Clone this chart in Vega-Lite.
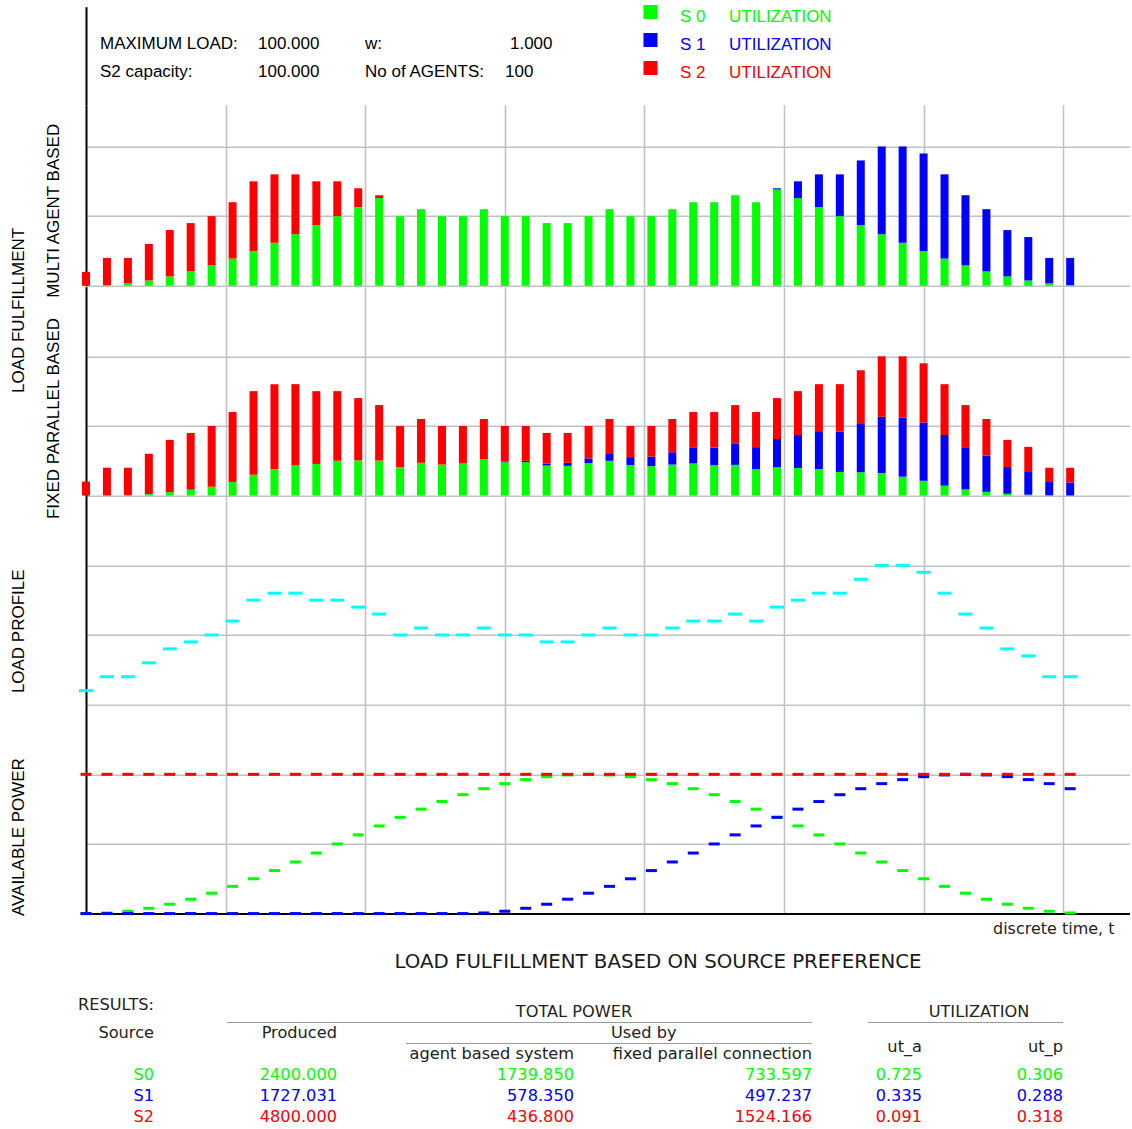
{
  "$schema": "https://vega.github.io/schema/vega-lite/v6.json",
  "padding": {"left": 8, "top": 0.7, "right": 0, "bottom": 0},
  "spacing": 0,
  "bounds": "flush",
  "resolve": {"scale": {"x": "independent", "y": "independent"}},
  "config": {"view": {"stroke": null}, "font": "Liberation Sans"},
  "datasets": {
    "agent": [
      {"t":0,"S0":0,"S1":0,"S2":10},{"t":1,"S0":0.43,"S1":0,"S2":19.57},{"t":2,"S0":1.7,"S1":0,"S2":18.3},{"t":3,"S0":3.81,"S1":0,"S2":26.19},
      {"t":4,"S0":6.7,"S1":0,"S2":33.3},{"t":5,"S0":10.33,"S1":0,"S2":34.67},{"t":6,"S0":14.64,"S1":0,"S2":35.36},{"t":7,"S0":19.56,"S1":0,"S2":40.44},
      {"t":8,"S0":25,"S1":0,"S2":50},{"t":9,"S0":30.87,"S1":0,"S2":49.13},{"t":10,"S0":37.06,"S1":0,"S2":42.94},{"t":11,"S0":43.47,"S1":0,"S2":31.53},
      {"t":12,"S0":50,"S1":0,"S2":25},{"t":13,"S0":56.53,"S1":0,"S2":13.47},{"t":14,"S0":62.94,"S1":0,"S2":2.06},{"t":15,"S0":50,"S1":0,"S2":0},
      {"t":16,"S0":55,"S1":0,"S2":0},{"t":17,"S0":50,"S1":0,"S2":0},{"t":18,"S0":50,"S1":0,"S2":0},{"t":19,"S0":55,"S1":0,"S2":0},
      {"t":20,"S0":50,"S1":0,"S2":0},{"t":21,"S0":50,"S1":0,"S2":0},{"t":22,"S0":45,"S1":0,"S2":0},{"t":23,"S0":45,"S1":0,"S2":0},
      {"t":24,"S0":50,"S1":0,"S2":0},{"t":25,"S0":55,"S1":0,"S2":0},{"t":26,"S0":50,"S1":0,"S2":0},{"t":27,"S0":50,"S1":0,"S2":0},
      {"t":28,"S0":55,"S1":0,"S2":0},{"t":29,"S0":60,"S1":0,"S2":0},{"t":30,"S0":60,"S1":0,"S2":0},{"t":31,"S0":65,"S1":0,"S2":0},
      {"t":32,"S0":60,"S1":0,"S2":0},{"t":33,"S0":69.13,"S1":0.87,"S2":0},{"t":34,"S0":62.94,"S1":12.06,"S2":0},{"t":35,"S0":56.53,"S1":23.47,"S2":0},
      {"t":36,"S0":50,"S1":30,"S2":0},{"t":37,"S0":43.47,"S1":46.53,"S2":0},{"t":38,"S0":37.06,"S1":62.94,"S2":0},{"t":39,"S0":30.87,"S1":69.13,"S2":0},
      {"t":40,"S0":25,"S1":70,"S2":0},{"t":41,"S0":19.56,"S1":60.44,"S2":0},{"t":42,"S0":14.64,"S1":50.36,"S2":0},{"t":43,"S0":10.33,"S1":44.67,"S2":0},
      {"t":44,"S0":6.7,"S1":33.3,"S2":0},{"t":45,"S0":3.81,"S1":31.19,"S2":0},{"t":46,"S0":1.7,"S1":18.3,"S2":0},{"t":47,"S0":0.43,"S1":19.57,"S2":0}
    ],
    "parallel": [
      {"t":0,"S0":0,"S1":0,"S2":10},{"t":1,"S0":0.09,"S1":0,"S2":19.91},{"t":2,"S0":0.33,"S1":0,"S2":19.67},{"t":3,"S0":1.1,"S1":0,"S2":28.9},
      {"t":4,"S0":2.51,"S1":0,"S2":37.49},{"t":5,"S0":4.21,"S1":0,"S2":40.79},{"t":6,"S0":6.39,"S1":0,"S2":43.61},{"t":7,"S0":9.82,"S1":0,"S2":50.18},
      {"t":8,"S0":15,"S1":0,"S2":60},{"t":9,"S0":18.87,"S1":0,"S2":61.13},{"t":10,"S0":21.63,"S1":0,"S2":58.37},{"t":11,"S0":22.72,"S1":0,"S2":52.28},
      {"t":12,"S0":25,"S1":0,"S2":50},{"t":13,"S0":25.28,"S1":0,"S2":44.72},{"t":14,"S0":25.11,"S1":0,"S2":39.89},{"t":15,"S0":20.44,"S1":0,"S2":29.56},
      {"t":16,"S0":23.57,"S1":0,"S2":31.43},{"t":17,"S0":22.29,"S1":0,"S2":27.71},{"t":18,"S0":23.03,"S1":0,"S2":26.97},{"t":19,"S0":25.94,"S1":0.12,"S2":28.94},
      {"t":20,"S0":23.92,"S1":0.44,"S2":25.64},{"t":21,"S0":24.05,"S1":0.95,"S2":25},{"t":22,"S0":21.58,"S1":1.47,"S2":21.95},{"t":23,"S0":21.35,"S1":2.21,"S2":21.44},
      {"t":24,"S0":23.29,"S1":3.41,"S2":23.3},{"t":25,"S0":24.99,"S1":4.91,"S2":25.1},{"t":26,"S0":22.01,"S1":5.6,"S2":22.39},{"t":27,"S0":21.18,"S1":6.8,"S2":22.02},
      {"t":28,"S0":22.28,"S1":8.85,"S2":23.87},{"t":29,"S0":23.08,"S1":11.19,"S2":25.73},{"t":30,"S0":21.76,"S1":12.75,"S2":25.49},{"t":31,"S0":22.06,"S1":15.51,"S2":27.43},
      {"t":32,"S0":18.91,"S1":15.87,"S2":25.22},{"t":33,"S0":20.31,"S1":20.31,"S2":29.38},{"t":34,"S0":19.84,"S1":23.64,"S2":31.52},{"t":35,"S0":19.08,"S1":27.16,"S2":33.76},
      {"t":36,"S0":17,"S1":29.01,"S2":33.99},{"t":37,"S0":16.78,"S1":34.62,"S2":38.6},{"t":38,"S0":16.09,"S1":40.5,"S2":43.41},{"t":39,"S0":13.6,"S1":42.36,"S2":44.04},
      {"t":40,"S0":10.64,"S1":41.82,"S2":42.54},{"t":41,"S0":7.14,"S1":36.35,"S2":36.51},{"t":42,"S0":4.43,"S1":30.28,"S2":30.29},{"t":43,"S0":2.71,"S1":26.09,"S2":26.2},
      {"t":44,"S0":1.31,"S1":19.18,"S2":19.51},{"t":45,"S0":0.67,"S1":16.83,"S2":17.5},{"t":46,"S0":0.17,"S1":9.57,"S2":10.26},{"t":47,"S0":0.05,"S1":9.43,"S2":10.52}
    ],
    "power": [
      {"t":0,"load":10,"S0":0,"S1":0,"S2":100},{"t":1,"load":20,"S0":0.43,"S1":0,"S2":100},{"t":2,"load":20,"S0":1.7,"S1":0,"S2":100},{"t":3,"load":30,"S0":3.81,"S1":0,"S2":100},
      {"t":4,"load":40,"S0":6.7,"S1":0,"S2":100},{"t":5,"load":45,"S0":10.33,"S1":0,"S2":100},{"t":6,"load":50,"S0":14.64,"S1":0,"S2":100},{"t":7,"load":60,"S0":19.56,"S1":0,"S2":100},
      {"t":8,"load":75,"S0":25,"S1":0,"S2":100},{"t":9,"load":80,"S0":30.87,"S1":0,"S2":100},{"t":10,"load":80,"S0":37.06,"S1":0,"S2":100},{"t":11,"load":75,"S0":43.47,"S1":0,"S2":100},
      {"t":12,"load":75,"S0":50,"S1":0,"S2":100},{"t":13,"load":70,"S0":56.53,"S1":0,"S2":100},{"t":14,"load":65,"S0":62.94,"S1":0,"S2":100},{"t":15,"load":50,"S0":69.13,"S1":0,"S2":100},
      {"t":16,"load":55,"S0":75,"S1":0,"S2":100},{"t":17,"load":50,"S0":80.44,"S1":0,"S2":100},{"t":18,"load":50,"S0":85.36,"S1":0,"S2":100},{"t":19,"load":55,"S0":89.67,"S1":0.43,"S2":100},
      {"t":20,"load":50,"S0":93.3,"S1":1.7,"S2":100},{"t":21,"load":50,"S0":96.19,"S1":3.81,"S2":100},{"t":22,"load":45,"S0":98.3,"S1":6.7,"S2":100},{"t":23,"load":45,"S0":99.57,"S1":10.33,"S2":100},
      {"t":24,"load":50,"S0":100,"S1":14.64,"S2":100},{"t":25,"load":55,"S0":99.57,"S1":19.56,"S2":100},{"t":26,"load":50,"S0":98.3,"S1":25,"S2":100},{"t":27,"load":50,"S0":96.19,"S1":30.87,"S2":100},
      {"t":28,"load":55,"S0":93.3,"S1":37.06,"S2":100},{"t":29,"load":60,"S0":89.67,"S1":43.47,"S2":100},{"t":30,"load":60,"S0":85.36,"S1":50,"S2":100},{"t":31,"load":65,"S0":80.44,"S1":56.53,"S2":100},
      {"t":32,"load":60,"S0":75,"S1":62.94,"S2":100},{"t":33,"load":70,"S0":69.13,"S1":69.13,"S2":100},{"t":34,"load":75,"S0":62.94,"S1":75,"S2":100},{"t":35,"load":80,"S0":56.53,"S1":80.44,"S2":100},
      {"t":36,"load":80,"S0":50,"S1":85.36,"S2":100},{"t":37,"load":90,"S0":43.47,"S1":89.67,"S2":100},{"t":38,"load":100,"S0":37.06,"S1":93.3,"S2":100},{"t":39,"load":100,"S0":30.87,"S1":96.19,"S2":100},
      {"t":40,"load":95,"S0":25,"S1":98.3,"S2":100},{"t":41,"load":80,"S0":19.56,"S1":99.57,"S2":100},{"t":42,"load":65,"S0":14.64,"S1":100,"S2":100},{"t":43,"load":55,"S0":10.33,"S1":99.57,"S2":100},
      {"t":44,"load":40,"S0":6.7,"S1":98.3,"S2":100},{"t":45,"load":35,"S0":3.81,"S1":96.19,"S2":100},{"t":46,"load":20,"S0":1.7,"S1":93.3,"S2":100},{"t":47,"load":20,"S0":0.43,"S1":89.67,"S2":100}
    ]
  },
  "vconcat": [
    {
      "width": 1044, "height": 97.8,
      "data": {"values": [
        {"slot":0,"line":0,"text":"MAXIMUM LOAD:"},{"slot":1,"line":0,"text":"100.000"},{"slot":2,"line":0,"text":"w:"},{"slot":4,"line":0,"text":"1.000"},
        {"slot":0,"line":1,"text":"S2 capacity:"},{"slot":1,"line":1,"text":"100.000"},{"slot":2,"line":1,"text":"No of AGENTS:"},{"slot":3,"line":1,"text":"100"}
      ]},
      "mark": {"type": "text", "align": "left", "baseline": "middle", "font": "Liberation Sans", "fontSize": 17, "color": "#000"},
      "encoding": {
        "x": {"field": "slot", "type": "quantitative", "scale": {"domain": [0,1,2,3,4], "range": [14,172,279,419,424], "nice": false, "zero": false}, "axis": null},
        "y": {"field": "line", "type": "quantitative", "scale": {"domain": [-1.321, 2.171], "range": [0, 97.8], "nice": false, "zero": false},
          "axis": {"grid": false, "ticks": false, "labels": false, "domain": true, "domainColor": "#000", "domainWidth": 2,
            "title": "LOAD FULFILLMENT", "titleX": -68, "titleY": 303.2, "titleAngle": 270, "titleAlign": "center", "titleBaseline": "middle",
            "titleFont": "Liberation Sans", "titleFontSize": 17, "titleFontWeight": "normal", "titleColor": "#000"}},
        "text": {"field": "text"}
      }
    },
    {
      "width": 1044, "height": 181.1,
      "data": {"name": "agent"},
      "transform": [{"fold": ["S0","S1","S2"], "as": ["src","v"]}],
      "mark": {"type": "bar", "size": 8},
      "encoding": {
        "x": {"field": "t", "type": "quantitative", "scale": {"domain": [0, 49.857], "nice": false, "zero": false, "padding": 0},
          "axis": {"values": [6.6667,13.3333,20,26.6667,33.3333,40,46.6667], "grid": true, "gridColor": "#bfc3c3", "gridWidth": 1.6, "labels": false, "ticks": false, "domain": false, "title": null}},
        "y": {"field": "v", "type": "quantitative", "stack": "zero", "scale": {"domain": [0, 130], "nice": false, "padding": 0},
          "axis": {"values": [0,50,100], "grid": true, "gridColor": "#bfc3c3", "gridWidth": 1.6, "labels": false, "ticks": false, "domain": true, "domainColor": "#000", "domainWidth": 2,
            "title": "MULTI AGENT BASED", "titleX": -33, "titleY": 105.6, "titleAngle": 270, "titleAlign": "center", "titleBaseline": "middle",
            "titleFont": "Liberation Sans", "titleFontSize": 17, "titleFontWeight": "normal", "titleColor": "#000"}},
        "color": {"field": "src", "type": "nominal", "scale": {"domain": ["S0","S1","S2"], "range": ["#00ff00","#0000ff","#ff0000"]},
          "legend": {"orient": "none", "legendX": 556, "legendY": -5.8, "direction": "vertical", "title": null, "padding": 0,
            "symbolType": "square", "symbolSize": 196, "symbolStrokeWidth": 0, "symbolOpacity": 1, "clipHeight": 22,
            "labelFont": "Liberation Sans", "labelFontSize": 17, "labelOffset": 21, "rowPadding": 4.1,
            "labelExpr": "'S\u00a0' + substring(datum.label, 1) + '\u00a0\u00a0\u00a0\u00a0\u00a0UTILIZATION'",
            "encode": {"labels": {"update": {"fill": {"signal": "scale('color', datum.value)"}, "dy": {"value": 5}}}}}},
        "order": {"field": "src"}
      }
    },
    {
      "width": 1044, "height": 208.9,
      "data": {"name": "parallel"},
      "transform": [{"fold": ["S0","S1","S2"], "as": ["src","v"]}],
      "mark": {"type": "bar", "size": 8},
      "encoding": {
        "x": {"field": "t", "type": "quantitative", "scale": {"domain": [0, 49.857], "nice": false, "zero": false, "padding": 0},
          "axis": {"values": [6.6667,13.3333,20,26.6667,33.3333,40,46.6667], "grid": true, "gridColor": "#bfc3c3", "gridWidth": 1.6, "labels": false, "ticks": false, "domain": false, "title": null}},
        "y": {"field": "v", "type": "quantitative", "stack": "zero", "scale": {"domain": [0, 150], "nice": false, "padding": 0},
          "axis": {"values": [0,50,100], "grid": true, "gridColor": "#bfc3c3", "gridWidth": 1.6, "labels": false, "ticks": false, "domain": true, "domainColor": "#000", "domainWidth": 2,
            "title": "FIXED PARALLEL BASED", "titleX": -33, "titleY": 131.3, "titleAngle": 270, "titleAlign": "center", "titleBaseline": "middle",
            "titleFont": "Liberation Sans", "titleFontSize": 17, "titleFontWeight": "normal", "titleColor": "#000"}},
        "color": {"field": "src", "type": "nominal", "legend": null},
        "order": {"field": "src"}
      }
    },
    {
      "width": 1044, "height": 208.9,
      "data": {"name": "power"},
      "mark": {"type": "tick", "orient": "horizontal", "size": 14, "thickness": 3, "color": "#00ffff", "opacity": 1},
      "encoding": {
        "x": {"field": "t", "type": "quantitative", "scale": {"domain": [0, 49.857], "nice": false, "zero": false, "padding": 0},
          "axis": {"values": [6.6667,13.3333,20,26.6667,33.3333,40,46.6667], "grid": true, "gridColor": "#bfc3c3", "gridWidth": 1.6, "labels": false, "ticks": false, "domain": false, "title": null}},
        "y": {"field": "load", "type": "quantitative", "scale": {"domain": [0, 150], "nice": false, "padding": 0},
          "axis": {"values": [0,50,100], "grid": true, "gridColor": "#bfc3c3", "gridWidth": 1.6, "labels": false, "ticks": false, "domain": true, "domainColor": "#000", "domainWidth": 2,
            "title": "LOAD PROFILE", "titleX": -68, "titleY": 135.1, "titleAngle": 270, "titleAlign": "center", "titleBaseline": "middle",
            "titleFont": "Liberation Sans", "titleFontSize": 17, "titleFontWeight": "normal", "titleColor": "#000"}}
      }
    },
    {
      "width": 1044, "height": 208.9,
      "data": {"name": "power"},
      "transform": [{"fold": ["S0","S1","S2"], "as": ["src","v"]}],
      "mark": {"type": "tick", "orient": "horizontal", "size": 11, "thickness": 3, "opacity": 1},
      "encoding": {
        "x": {"field": "t", "type": "quantitative", "scale": {"domain": [0, 49.857], "nice": false, "zero": false, "padding": 0},
          "axis": {"values": [6.6667,13.3333,20,26.6667,33.3333,40,46.6667], "grid": true, "gridColor": "#bfc3c3", "gridWidth": 1.6, "labels": false, "ticks": false,
            "domain": true, "domainColor": "#000", "domainWidth": 2,
            "title": "discrete time, t", "titleX": 1028, "titleY": 15, "titleAlign": "right", "titleBaseline": "middle", "titleAnchor": null,
            "titleFont": "DejaVu Sans", "titleFontSize": 16, "titleFontWeight": "normal", "titleColor": "#222"}},
        "y": {"field": "v", "type": "quantitative", "scale": {"domain": [0, 150], "nice": false, "padding": 0},
          "axis": {"values": [0,50,100], "grid": true, "gridColor": "#bfc3c3", "gridWidth": 1.6, "labels": false, "ticks": false, "domain": true, "domainColor": "#000", "domainWidth": 2,
            "title": "AVAILABLE POWER", "titleX": -68, "titleY": 131.9, "titleAngle": 270, "titleAlign": "center", "titleBaseline": "middle",
            "titleFont": "Liberation Sans", "titleFontSize": 17, "titleFontWeight": "normal", "titleColor": "#000"}},
        "color": {"field": "src", "type": "nominal", "legend": null}
      }
    },
    {
      "width": 1044, "height": 210,
      "encoding": {
        "x": {"field": "col", "type": "quantitative", "scale": {"domain": [0,1,2,3,4,5,6,7,8,9,10,11], "range": [68,141,251,320,488,525,572,726,782,836,893,977], "nice": false, "zero": false}, "axis": null},
        "y": {"field": "row", "type": "quantitative", "scale": {"domain": [0,1,2,3,4,5,6,7,8,9,10], "range": [48.8,91.8,98.8,108.8,119.8,129.8,133.8,140.8,161.8,182.8,203.8], "nice": false, "zero": false}, "axis": null}
      },
      "layer": [
        {
          "data": {"values": [{"col":1,"col2":7,"row":3},{"col":8,"col2":11,"row":3},{"col":3,"col2":7,"row":5}]},
          "mark": {"type": "rule", "color": "#999999", "strokeWidth": 1},
          "encoding": {"x2": {"field": "col2"}}
        },
        {
          "data": {"values": [{"col":6,"row":0,"text":"LOAD FULFILLMENT BASED ON SOURCE PREFERENCE"}]},
          "mark": {"type": "text", "align": "center", "baseline": "middle", "font": "DejaVu Sans", "fontSize": 19.8, "color": "#1a1a1a"},
          "encoding": {"text": {"field": "text"}}
        },
        {
          "data": {"values": [
            {"col":0,"row":1,"text":"RESULTS:"},{"col":0,"row":4,"text":"Source"},{"col":2,"row":4,"text":"Produced"},
            {"col":4,"row":7,"text":"agent based system"},{"col":7,"row":7,"text":"fixed parallel connection"},
            {"col":9,"row":6,"text":"ut_a"},{"col":11,"row":6,"text":"ut_p"}
          ]},
          "mark": {"type": "text", "align": "right", "baseline": "middle", "font": "DejaVu Sans", "fontSize": 16.2, "color": "#222222"},
          "encoding": {"text": {"field": "text"}}
        },
        {
          "data": {"values": [{"col":4,"row":2,"text":"TOTAL POWER"},{"col":10,"row":2,"text":"UTILIZATION"}]},
          "mark": {"type": "text", "align": "center", "baseline": "middle", "font": "DejaVu Sans", "fontSize": 16.2, "color": "#222222"},
          "encoding": {"text": {"field": "text"}}
        },
        {
          "data": {"values": [{"col":5,"row":4,"text":"Used by"}]},
          "mark": {"type": "text", "align": "left", "baseline": "middle", "font": "DejaVu Sans", "fontSize": 16.2, "color": "#222222"},
          "encoding": {"text": {"field": "text"}}
        },
        {
          "data": {"values": [
            {"src":"S0","col":0,"row":8,"text":"S0"},{"src":"S0","col":2,"row":8,"text":"2400.000"},{"src":"S0","col":4,"row":8,"text":"1739.850"},{"src":"S0","col":7,"row":8,"text":"733.597"},{"src":"S0","col":9,"row":8,"text":"0.725"},{"src":"S0","col":11,"row":8,"text":"0.306"},
            {"src":"S1","col":0,"row":9,"text":"S1"},{"src":"S1","col":2,"row":9,"text":"1727.031"},{"src":"S1","col":4,"row":9,"text":"578.350"},{"src":"S1","col":7,"row":9,"text":"497.237"},{"src":"S1","col":9,"row":9,"text":"0.335"},{"src":"S1","col":11,"row":9,"text":"0.288"},
            {"src":"S2","col":0,"row":10,"text":"S2"},{"src":"S2","col":2,"row":10,"text":"4800.000"},{"src":"S2","col":4,"row":10,"text":"436.800"},{"src":"S2","col":7,"row":10,"text":"1524.166"},{"src":"S2","col":9,"row":10,"text":"0.091"},{"src":"S2","col":11,"row":10,"text":"0.318"}
          ]},
          "mark": {"type": "text", "align": "right", "baseline": "middle", "font": "DejaVu Sans", "fontSize": 16.2},
          "encoding": {"text": {"field": "text"}, "color": {"field": "src", "type": "nominal", "legend": null}}
        }
      ]
    }
  ]
}
